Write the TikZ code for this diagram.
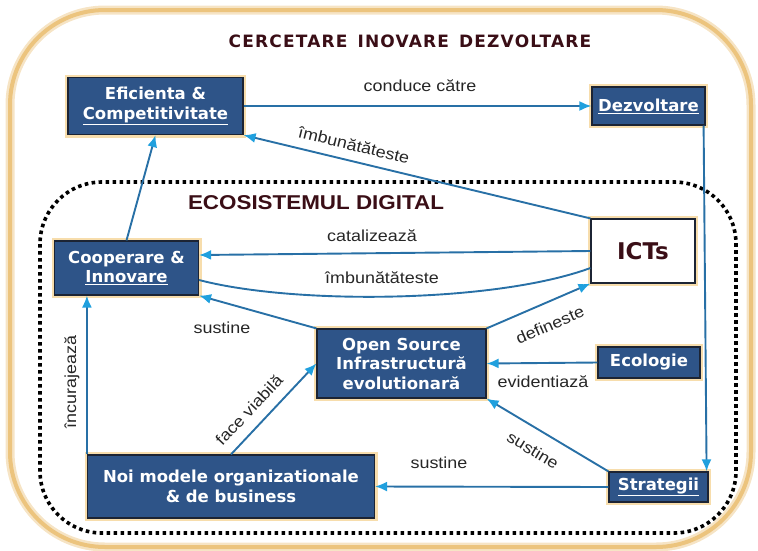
\documentclass[tikz,border=0pt]{standalone}
\usepackage{fontspec}
\setmainfont{DejaVu Sans}
\newfontfamily\labelfont[FakeStretch=1.12]{Liberation Sans}
\usetikzlibrary{calc,arrows.meta}

\definecolor{boxblau}{RGB}{46,84,136}
\definecolor{randdunkel}{RGB}{28,36,52}
\definecolor{glut}{RGB}{247,221,172}
\definecolor{pfeilblau}{RGB}{40,112,166}
\definecolor{spitzeblau}{RGB}{32,160,222}
\definecolor{weinrot}{RGB}{58,14,22}
\definecolor{sandrand}{RGB}{236,196,126}

\tikzset{
  kasten/.style={draw=randdunkel, line width=1.2pt, fill=boxblau, text=white,
    font=\bfseries\fontsize{16.5}{19.5}\selectfont, align=center, inner sep=0pt,
    preaction={draw=glut, line width=6pt}},
  weisskasten/.style={kasten, fill=white, text=weinrot,
    font=\bfseries\fontsize{23}{26}\selectfont},
  pfeil/.style={draw=pfeilblau, line width=1.9pt,
    -{Latex[length=12pt,width=10pt,color=spitzeblau]}},
  linie/.style={draw=pfeilblau, line width=1.9pt},
  lbl/.style={font=\labelfont\fontsize{16}{18}\selectfont, text=black!85, inner sep=0pt},
}

\begin{document}
\begin{tikzpicture}[x=1pt,y=-1pt] % 1 Einheit = 1 Pixel, y nach unten
\useasboundingbox (0,0) rectangle (758,550);

%RAHMEN AUSSEN
\draw [sandrand!45, line width=9pt, rounded corners=95pt] (10,10) rectangle (751,547);
\draw [sandrand, line width=4pt, rounded corners=95pt] (10,10) rectangle (751,547);

%RAHMEN INNEN (gepunktet)
\draw [black, line width=3.6pt, dash pattern=on 3.6pt off 3.4pt, rounded corners=62pt] (40,182) rectangle (736,533);

%UEBERSCHRIFTEN
\node [font=\bfseries\fontsize{17}{19}\selectfont\addfontfeature{LetterSpace=7}, text=weinrot] (tCid) at (410,41) {CERCETARE\hspace{10pt}INOVARE\hspace{10pt}DEZVOLTARE};
\node [font=\labelfont\bfseries\fontsize{20}{22}\selectfont, text=weinrot] (tEco) at (316,203) {ECOSISTEMUL DIGITAL};

%KAESTEN
\node [kasten, minimum width=175pt, minimum height=57pt] (eff) at (155.5,106) {Eficienta \&\\\underline{Competitivitate}};
\node [kasten, minimum width=113pt, minimum height=38pt] (dez) at (648.5,106) {\underline{Dezvoltare}};
\node [kasten, minimum width=144pt, minimum height=54pt] (coop) at (126.5,268) {Cooperare \&\\\underline{Innovare}};
\node [weisskasten, minimum width=104pt, minimum height=64pt] (icts) at (643,251) {ICTs};
\node [kasten, minimum width=169pt, minimum height=69pt] (oss) at (401.5,363.5) {Open Source\\Infrastructură\\evolutionară};
\node [kasten, minimum width=102pt, minimum height=31pt] (eco) at (649,362.5) {Ecologie};
\node [kasten, minimum width=99pt, minimum height=30pt] (strat) at (658.5,487) {\underline{Strategii}};
\node [kasten, minimum width=287pt, minimum height=63pt] (noi) at (231,486.5) {Noi modele organizationale\\\& de business};

%PFEILE
\draw [pfeil] (eff.east) -- (dez.west);
\draw [pfeil] (icts.north west) -- (eff.south east);
\draw [pfeil] (icts.west) -- ([yshift=13pt]coop.east);
\draw [linie] ([yshift=-17pt]icts.west) .. controls +(-95,35) and +(95,25) .. ([yshift=-12pt]coop.east);
\draw [pfeil] (oss.north west) -- (coop.south east);
\draw [pfeil] (oss.north east) -- (icts.south west);
\draw [pfeil] (eco.west) -- (oss.east);
\draw [pfeil] ([xshift=-2pt]dez.south east) -- ([xshift=-2pt]strat.north east);
\draw [pfeil] (strat.north west) -- (oss.south east);
\draw [pfeil] (strat.west) -- (noi.east);
\draw [pfeil] (noi.north west) -- (noi.north west |- coop.south);
\draw [pfeil] (noi.north) -- (oss.west);
\draw [pfeil] (coop.north) -- (eff.south);

%BESCHRIFTUNGEN
\node [lbl] (lKonduce) at (420,86) {conduce către};
\node [lbl, rotate=-13.7] (lImb1) at (354,145) {îmbunătăteste};
\node [lbl] (lKatal) at (372,236) {catalizează};
\node [lbl] (lImb2) at (382,278) {îmbunătăteste};
\node [lbl] (lSus1) at (222,328) {sustine};
\node [lbl, rotate=23.6] (lDef) at (550,325) {defineste};
\node [lbl] (lEvid) at (543,382) {evidentiază};
\node [lbl, rotate=-31] (lSus2) at (533,450) {sustine};
\node [lbl] (lSus3) at (439,463) {sustine};
\node [lbl, rotate=90] (lIncur) at (72,382) {încurajează};
\node [lbl, rotate=46.6] (lFace) at (249,410) {face viabilă};

\end{tikzpicture}
\end{document}
